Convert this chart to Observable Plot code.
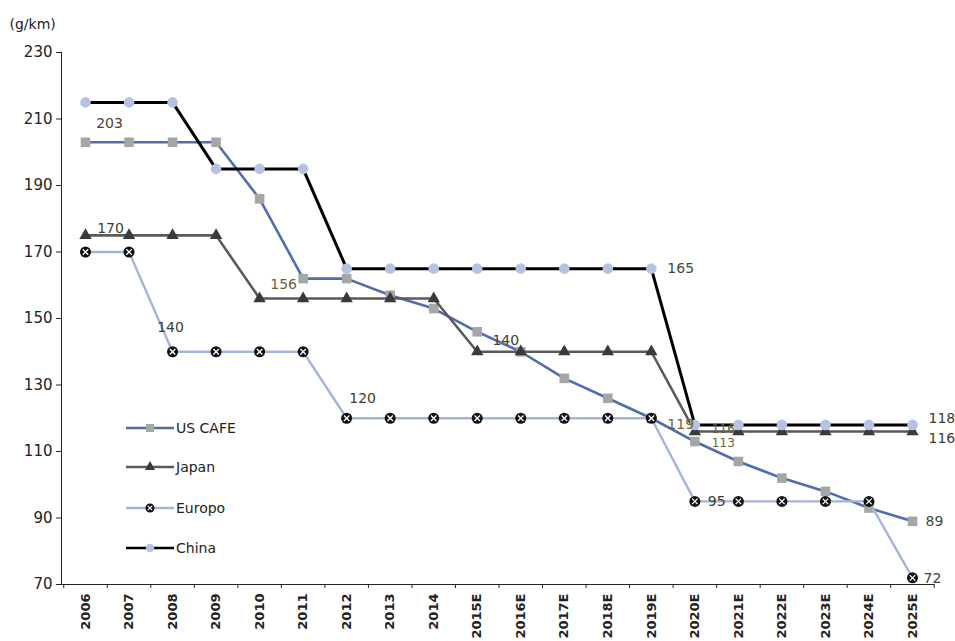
<!DOCTYPE html>
<html>
<head>
<meta charset="utf-8">
<script src="https://cdn.jsdelivr.net/npm/d3@7"></script>
<script src="https://cdn.jsdelivr.net/npm/@observablehq/plot@0.6"></script>
<style>
  html, body { margin: 0; padding: 0; background: #fff; }
  #wrap { position: relative; width: 955px; height: 641px; overflow: hidden; }
  #legend { position: absolute; left: 118px; top: 412px; }
</style>
</head>
<body>
<div id="wrap"><div id="chart"></div><div id="legend"></div></div>
<script>
// ---- data ----
const years = ["2006","2007","2008","2009","2010","2011","2012","2013","2014",
  "2015E","2016E","2017E","2018E","2019E","2020E","2021E","2022E","2023E","2024E","2025E"];
const usCafe = [203,203,203,203,186,162,162,157,153,146,140,132,126,120,113,107,102,98,93,89];
const japan  = [175,175,175,175,156,156,156,156,156,140,140,140,140,140,116,116,116,116,116,116];
const europe = [170,170,140,140,140,140,120,120,120,120,120,120,120,120,95,95,95,95,95,72];
const china  = [215,215,215,195,195,195,165,165,165,165,165,165,165,165,118,118,118,118,118,118];
const seriesNames = ["US CAFE","Japan","Europo","China"];
const yTicks = [70,90,110,130,150,170,190,210,230];
const unitLabel = "(g/km)";
// annotations: [year, value, text]
const annYears  = ["2006","2006","2008","2010","2012","2016E","2019E","2019E","2020E","2020E","2020E","2025E","2025E","2025E","2025E"];
const annValues = [203,170,140,156,120,140,165,120,116,113,95,118,116,89,72];
const annTexts  = ["203","170","140","156","120","140","165","119","116","113","95","118","116","89","72"];

const rows = (vals) => years.map((y, i) => ({year: y, value: vals[i]}));
const us = rows(usCafe), jp = rows(japan), eu = rows(europe), cn = rows(china);
const ann = annYears.map((y, i) => ({year: y, value: annValues[i], text: annTexts[i]}));

// styles
const C = {
  usLine: "#4f6db0", usMark: "#a6a6a6",
  jpLine: "#5a5a5a", jpMark: "#3a3a3a",
  euLine: "#a3b5dc", euMark: "#111",
  cnLine: "#000", cnMark: "#b6c2e2"
};
// per-annotation offsets [dx, dy, anchor, fontSize]
const annStyle = [
  [24,-19,"middle",14],[25,-23,"middle",14],[-2,-24,"middle",14],[24,-14,"middle",14],[16,-20,"middle",14],
  [-15,-11,"middle",14],[16,0,"start",14],[16,6,"start",14],[17,-2,"start",12],[17,2,"start",12],
  [13,0,"start",14],[16,-6,"start",14],[16,7,"start",14],[13,0,"start",14],[11,1,"start",14]
];
const annColors = ["#444","#3d4030","#3d4030","#6b6335","#3d4030","#3d4030","#3d4a3c","#6b6335","#6b6335","#6b6335","#3d4030","#3d4030","#3d4030","#3d4a3c","#3d4030"];

const chart = Plot.plot({
  width: 955,
  height: 641,
  marginLeft: 61,
  marginRight: 21,
  marginTop: 52,
  marginBottom: 57,
  style: {fontFamily: "DejaVu Sans, sans-serif", background: "#fff", overflow: "visible"},
  x: {type: "point", domain: years, range: [85, 912], padding: 0, round: false},
  y: {domain: [70, 230], range: [584, 52]},
  marks: [
    // axes
    Plot.axisY({ticks: yTicks, tickSize: 5, tickPadding: 4, fontSize: 15, label: null, color: "#222"}),
    Plot.axisX({tickSize: 0, tickPadding: 9, tickRotate: -90, fontSize: 13, fontWeight: "bold", label: null, color: "#222"}),
    Plot.ruleY([70], {stroke: "#222", strokeWidth: 1}),
    Plot.ruleX(["2006"], {y1: 70, y2: 230, dx: -24, stroke: "#222"}),
    Plot.ruleX(years, {y1: 70, y2: 68.8, dx: -21.76, stroke: "#222"}),
    Plot.ruleX(["2025E"], {y1: 70, y2: 68.8, dx: 21.76, stroke: "#222"}),
    Plot.text([unitLabel], {frameAnchor: "top-left", dx: -52, dy: -33, textAnchor: "start", fontSize: 14, fill: "#222"}),
    // US CAFE
    Plot.line(us, {x: "year", y: "value", stroke: C.usLine, strokeWidth: 2.6}),
    Plot.dot(us, {x: "year", y: "value", symbol: "square", r: 5.4, fill: C.usMark, stroke: "none"}),
    // Japan
    Plot.line(jp, {x: "year", y: "value", stroke: C.jpLine, strokeWidth: 2.6}),
    Plot.dot(jp, {x: "year", y: "value", symbol: "triangle", r: 4.6, fill: C.jpMark, stroke: "none"}),
    // Europe
    Plot.line(eu, {x: "year", y: "value", stroke: C.euLine, strokeWidth: 2.4}),
    Plot.dot(eu, {x: "year", y: "value", r: 5.5, fill: C.euMark, stroke: "none"}),
    Plot.dot(eu, {x: "year", y: "value", symbol: "times", r: 2.6, stroke: "#fff", strokeWidth: 1.3}),
    // China
    Plot.line(cn, {x: "year", y: "value", stroke: C.cnLine, strokeWidth: 3}),
    Plot.dot(cn, {x: "year", y: "value", r: 5.3, fill: C.cnMark, stroke: "none"}),
    // annotations
    ...ann.map((d, i) => Plot.text([d], {
      x: "year", y: "value", text: "text",
      dx: annStyle[i][0], dy: annStyle[i][1], textAnchor: annStyle[i][2],
      fontSize: annStyle[i][3], fill: annColors[i]
    }))
  ]
});
document.getElementById("chart").appendChild(chart);

// legend (inside plot area)
const lg = d3.select("#legend").append("svg").attr("width", 140).attr("height", 150)
  .style("font-family", "DejaVu Sans, sans-serif").style("overflow", "visible");
const legendItems = [
  {name: seriesNames[0], line: C.usLine, mark: "square", fill: C.usMark},
  {name: seriesNames[1], line: C.jpLine, mark: "triangle", fill: C.jpMark},
  {name: seriesNames[2], line: C.euLine, mark: "euro", fill: C.euMark},
  {name: seriesNames[3], line: C.cnLine, mark: "circle", fill: C.cnMark}
];
const stepY = [16, 55, 96, 136];
legendItems.forEach((it, i) => {
  const g = lg.append("g").attr("transform", `translate(0,${stepY[i]})`);
  g.append("line").attr("x1", 8).attr("x2", 56).attr("y1", 0).attr("y2", 0)
    .attr("stroke", it.line).attr("stroke-width", 2.5);
  if (it.mark === "square") {
    g.append("rect").attr("x", 28).attr("y", -4).attr("width", 8).attr("height", 8).attr("fill", it.fill);
  } else if (it.mark === "triangle") {
    g.append("path").attr("d", d3.symbol(d3.symbolTriangle, 45)()).attr("transform", "translate(32,0)").attr("fill", it.fill);
  } else if (it.mark === "euro") {
    g.append("circle").attr("cx", 32).attr("cy", 0).attr("r", 4.5).attr("fill", it.fill);
    g.append("path").attr("d", d3.symbol(d3.symbolTimes, 14)()).attr("transform", "translate(32,0)").attr("stroke", "#fff").attr("stroke-width", 1.2);
  } else {
    g.append("circle").attr("cx", 32).attr("cy", 0).attr("r", 4.2).attr("fill", it.fill);
  }
  g.append("text").attr("x", 58).attr("y", 0).attr("dy", "0.35em").attr("font-size", 14)
    .attr("fill", "#222").text(it.name);
});
</script>
</body>
</html>
